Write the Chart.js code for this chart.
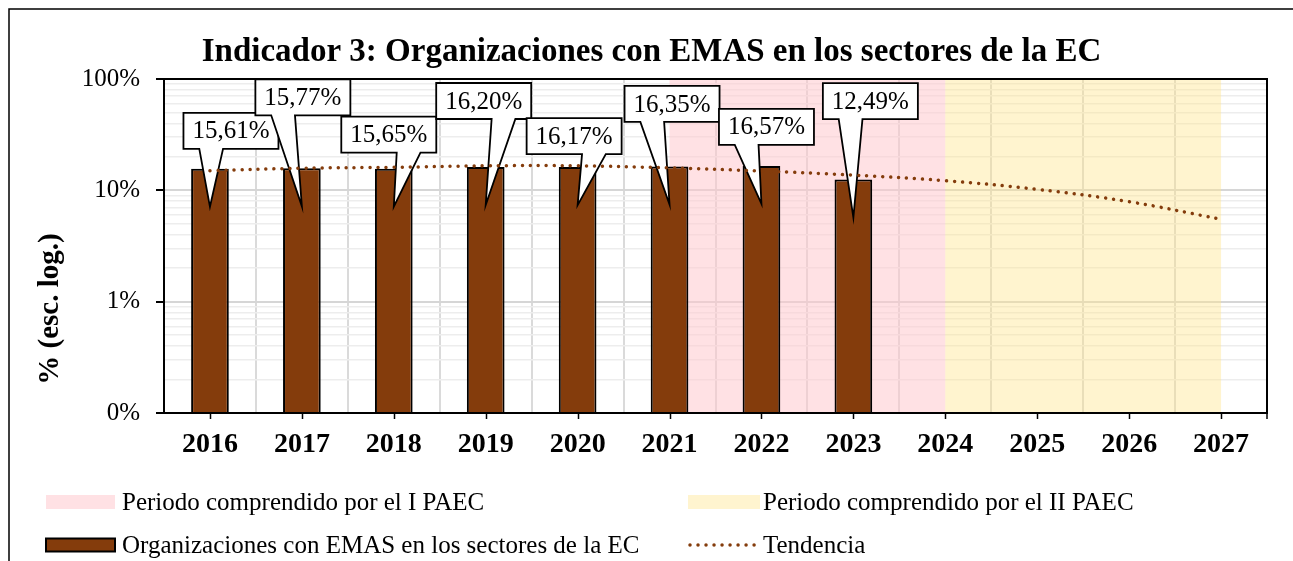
<!DOCTYPE html>
<html><head><meta charset="utf-8">
<script src="https://cdn.jsdelivr.net/npm/chart.js@4.4.1/dist/chart.umd.min.js"></script>
<style>html,body{margin:0;padding:0;background:#fff;}#wrap{width:1293px;height:561px;position:relative;}</style>
</head><body><div id="wrap"><canvas id="c" width="1293" height="561"></canvas></div>
<script>
// ---- data ----
const years = ['2016','2017','2018','2019','2020','2021','2022','2023','2024','2025','2026','2027'];
const emasValues = [15.61, 15.77, 15.65, 16.20, 16.17, 16.35, 16.57, 12.49, null, null, null, null];
const trendValues = [15.0, 15.8, 16.1, 16.6, 16.6, 15.9, 14.9, 13.7, 12.2, 10.2, 7.9, 5.5];
const yTickValues = [0.1, 1, 10, 100];
const yTickLabels = ['0%', '1%', '10%', '100%'];
const periodI = ['2021', '2024'];
const periodII = ['2024', '2027'];
const chartTitle = 'Indicador 3: Organizaciones con EMAS en los sectores de la EC';
const yAxisTitle = '% (esc. log.)';
const seriesName = 'Organizaciones con EMAS en los sectores de la EC';
const trendName = 'Tendencia';
const periodIName = 'Periodo comprendido por el I PAEC';
const periodIIName = 'Periodo comprendido por el II PAEC';

// ---- layout / style (not data) ----
const calloutOffsets = [[21,-38],[1,-71],[-5,-34],[-2,-66],[-3.5,-31],[2.5,-62.6],[5,-39],[17,-78.5]];
const SERIF = '"Liberation Serif", "Times New Roman", serif';
const BROWN = '#843C0C';
const PINK = 'rgba(255,200,206,0.55)';
const YELLOW = 'rgba(255,228,140,0.42)';

const isDecade = v => Math.abs(Math.log10(v) - Math.round(Math.log10(v))) < 1e-6;
const gridValues = [];
for (let d = -1; d < 2; d++) for (let m = 1; m < 10; m++) gridValues.push(+(m * Math.pow(10, d)).toPrecision(3));
gridValues.push(100);
const fmtPct = v => v.toFixed(2).replace('.', ',') + '%';

const framePlugin = {
  id: 'frame',
  beforeDraw(chart) {
    const c = chart.ctx;
    c.save();
    c.fillStyle = '#fff';
    c.fillRect(0, 0, chart.width, chart.height);
    c.restore();
  },
  beforeDatasetsDraw(chart) {
    const c = chart.ctx, a = chart.chartArea, x = chart.scales.x;
    c.save();
    c.fillStyle = PINK;
    const p1 = x.getPixelForValue(years.indexOf(periodI[0])), p2 = x.getPixelForValue(years.indexOf(periodI[1]));
    c.fillRect(p1, a.top, p2 - p1, a.bottom - a.top);
    c.fillStyle = YELLOW;
    const q1 = x.getPixelForValue(years.indexOf(periodII[0])), q2 = x.getPixelForValue(years.indexOf(periodII[1]));
    c.fillRect(q1, a.top, q2 - q1, a.bottom - a.top);
    c.restore();
  },
  afterDatasetDraw(chart, args) {
    if (args.index !== 0) return;
    const c = chart.ctx, x = chart.scales.x, y = chart.scales.y;
    c.save();
    c.font = '25px ' + SERIF;
    c.textAlign = 'center';
    c.textBaseline = 'middle';
    emasValues.forEach((v, i) => {
      if (v == null) return;
      const cx = x.getPixelForValue(i), top = y.getPixelForValue(v);
      const [dx, dy] = calloutOffsets[i];
      const w = 95, h = 36;
      const bx = cx + dx - w / 2, by = top + dy - h / 2;
      const tipX = cx, tipY = top + 38;
      let b1, b2;
      if (tipX < cx + dx) { b1 = bx + w / 6; b2 = bx + w * 5 / 12; }
      else { b1 = bx + w * 7 / 12; b2 = bx + w * 5 / 6; }
      c.beginPath();
      c.moveTo(bx, by);
      c.lineTo(bx + w, by);
      c.lineTo(bx + w, by + h);
      c.lineTo(b2, by + h);
      c.lineTo(tipX, tipY);
      c.lineTo(b1, by + h);
      c.lineTo(bx, by + h);
      c.closePath();
      c.fillStyle = '#fff';
      c.fill();
      c.lineWidth = 1.8;
      c.strokeStyle = '#000';
      c.lineJoin = 'miter';
      c.stroke();
      c.fillStyle = '#000';
      c.fillText(fmtPct(v), bx + w / 2, by + h / 2 + 1);
    });
    c.restore();
  },
  afterDraw(chart) {
    const c = chart.ctx, a = chart.chartArea, x = chart.scales.x;
    c.save();
    // plot border
    c.strokeStyle = '#000';
    c.lineWidth = 2;
    c.strokeRect(a.left, a.top, a.right - a.left, a.bottom - a.top);
    // x tick marks at category centres
    c.lineWidth = 1.5;
    c.beginPath();
    years.forEach((yr, i) => { const px = Math.round(x.getPixelForValue(i)) + 0.5; c.moveTo(px, a.bottom); c.lineTo(px, a.bottom + 6); });
    c.moveTo(a.right, a.bottom); c.lineTo(a.right, a.bottom + 6);
    c.stroke();
    // outer frame
    c.lineWidth = 1.5;
    c.strokeRect(9, 9, chart.width + 20, chart.height + 20);
    // title
    c.fillStyle = '#000';
    c.font = 'bold 33px ' + SERIF;
    c.textAlign = 'center';
    c.textBaseline = 'alphabetic';
    c.fillText(chartTitle, 651.5, 61);
    // y title
    c.save();
    c.translate(58, 309);
    c.rotate(-Math.PI / 2);
    c.font = 'bold 29px ' + SERIF;
    c.fillText(yAxisTitle, 0, 0);
    c.restore();
    // legend
    c.font = '25px ' + SERIF;
    c.textAlign = 'left';
    c.textBaseline = 'middle';
    const r1 = 502, r2 = 545;
    c.fillStyle = PINK; c.fillRect(46, r1 - 7, 69, 14);
    c.fillStyle = '#000'; c.fillText(periodIName, 122, r1 + 1);
    c.fillStyle = YELLOW; c.fillRect(688, r1 - 7, 72, 14);
    c.fillStyle = '#000'; c.fillText(periodIIName, 763, r1 + 1);
    c.fillStyle = BROWN; c.fillRect(46, r2 - 6.5, 69, 13);
    c.strokeStyle = '#000'; c.lineWidth = 2; c.strokeRect(46, r2 - 6.5, 69, 13);
    c.fillStyle = '#000'; c.fillText(seriesName, 122, r2 + 1);
    c.strokeStyle = BROWN; c.lineWidth = 3.5; c.lineCap = 'round'; c.setLineDash([0.01, 8]);
    c.beginPath(); c.moveTo(690, r2); c.lineTo(757, r2); c.stroke();
    c.setLineDash([]);
    c.fillStyle = '#000'; c.fillText(trendName, 763, r2 + 1);
    c.restore();
  }
};

new Chart(document.getElementById('c'), {
  data: {
    labels: years,
    datasets: [
      { type: 'bar', label: seriesName, data: emasValues, backgroundColor: BROWN, borderColor: '#000', borderWidth: 2,
        barPercentage: 0.41, categoryPercentage: 1, order: 2 },
      { type: 'line', label: trendName, data: trendValues, borderColor: BROWN, borderWidth: 3.5, borderDash: [0.01, 8],
        borderCapStyle: 'round', pointRadius: 0, tension: 0.4, fill: false, order: 1 }
    ]
  },
  options: {
    responsive: false, animation: false, devicePixelRatio: 1,
    layout: { padding: { top: 79, right: 26, bottom: 108, left: 0 } },
    plugins: { legend: { display: false }, tooltip: { enabled: false }, title: { display: false } },
    scales: {
      x: {
        offset: true,
        grid: { offset: true, color: '#dadada', lineWidth: 2, drawTicks: false },
        border: { color: '#000', width: 2 },
        ticks: { font: { family: SERIF, size: 28, weight: 'bold' }, color: '#000', padding: 15, maxRotation: 0, autoSkip: false },
        afterFit(s) { s.height = 40; }
      },
      y: {
        type: 'logarithmic', min: 0.1, max: 100,
        afterBuildTicks(s) { s.ticks = gridValues.map(v => ({ value: v })); },
        grid: {
          color: c => isDecade(c.tick.value) ? '#d6d6d6' : '#ededed',
          lineWidth: c => isDecade(c.tick.value) ? 2 : 1.5,
          tickColor: c => isDecade(c.tick.value) ? '#000' : 'rgba(0,0,0,0)',
          tickLength: 8
        },
        border: { color: '#000', width: 2 },
        ticks: {
          autoSkip: false, color: '#000', padding: 16, font: { family: SERIF, size: 25 },
          callback: v => { const k = yTickValues.findIndex(t => Math.abs(t - v) < 1e-9); return k >= 0 ? yTickLabels[k] : ''; }
        },
        afterFit(s) { s.width = 164; }
      }
    }
  },
  plugins: [framePlugin]
});
</script></body></html>
